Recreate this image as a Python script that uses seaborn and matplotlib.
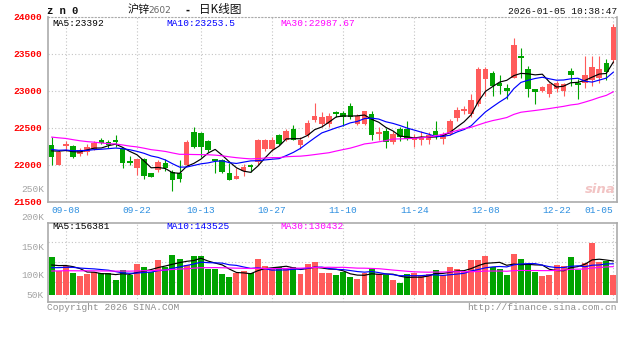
import numpy as np
import pandas as pd
import matplotlib
matplotlib.use("Agg")
import matplotlib.pyplot as plt
import seaborn as sns

# ---- data -------------------------------------------------------------
dates = [
    "09-04", "09-05", "09-08", "09-09", "09-10", "09-11", "09-12", "09-15", "09-16", "09-17",
    "09-18", "09-19", "09-22", "09-23", "09-24", "09-25", "09-26", "09-29", "09-30", "10-09",
    "10-10", "10-13", "10-14", "10-15", "10-16", "10-17", "10-20", "10-21", "10-22", "10-23",
    "10-24", "10-27", "10-28", "10-29", "10-30", "10-31", "11-03", "11-04", "11-05", "11-06",
    "11-07", "11-10", "11-11", "11-12", "11-13", "11-14", "11-17", "11-18", "11-19", "11-20",
    "11-21", "11-24", "11-25", "11-26", "11-27", "11-28", "12-01", "12-02", "12-03", "12-04",
    "12-05", "12-08", "12-09", "12-10", "12-11", "12-12", "12-15", "12-16", "12-17", "12-18",
    "12-19", "12-22", "12-23", "12-24", "12-25", "12-26", "12-29", "12-30", "12-31", "01-05",
]
tick_dates = ["09-08", "09-22", "10-13", "10-27", "11-10", "11-24", "12-08", "12-22", "01-05"]

open_price = [
    22270, 22000, 22250, 22250, 22145, 22172, 22218, 22338, 22300, 22340,
    22220, 22050, 21950, 22075, 21880, 21930, 22025, 21905, 21880, 21995,
    22440, 22425, 22320, 22075, 22060, 21880, 21805, 21920, 22000, 22040,
    22205, 22210, 22395, 22330, 22480, 22260, 22395, 22600, 22555, 22550,
    22710, 22695, 22790, 22550, 22550, 22690, 22420, 22460, 22305, 22485,
    22485, 22340, 22330, 22330, 22460, 22350, 22420, 22635, 22720, 22685,
    22820, 23155, 23240, 23110, 23040, 23175, 23465, 23290, 23020, 23000,
    22960, 23020, 23000, 23275, 23100, 23100, 23140, 23170, 23370, 23420,
]
high_price = [
    22370, 22200, 22320, 22265, 22220, 22280, 22320, 22360, 22340, 22400,
    22230, 22115, 22080, 22090, 21890, 22060, 22070, 21925, 22060, 22330,
    22510, 22440, 22330, 22080, 22080, 22015, 21950, 22010, 22010, 22350,
    22350, 22380, 22420, 22480, 22530, 22380, 22610, 22840, 22710, 22700,
    22730, 22720, 22830, 22690, 22730, 22720, 22510, 22490, 22460, 22510,
    22590, 22420, 22450, 22440, 22595, 22440, 22620, 22775, 22790, 22950,
    23320, 23320, 23265, 23220, 23090, 23720, 23580, 23330, 23030, 23070,
    23110, 23130, 23100, 23310, 23155, 23470, 23470, 23470, 23430, 23900,
]
low_price = [
    21995, 21990, 22180, 22090, 22110, 22130, 22200, 22280, 22230, 22240,
    21955, 21995, 21860, 21800, 21830, 21900, 21920, 21640, 21770, 21975,
    22220, 22105, 22170, 21880, 21880, 21785, 21800, 21850, 21905, 21990,
    22185, 22180, 22260, 22320, 22330, 22205, 22370, 22575, 22510, 22510,
    22640, 22520, 22620, 22530, 22530, 22340, 22330, 22230, 22280, 22320,
    22330, 22240, 22260, 22285, 22350, 22285, 22395, 22595, 22690, 22640,
    22795, 22930, 22930, 22950, 22885, 23175, 23175, 22910, 22820, 22980,
    22910, 22990, 22930, 23065, 22885, 23040, 23070, 23100, 23140, 23380,
]
close_price = [
    22100, 22170, 22285, 22105, 22195, 22240, 22293, 22293, 22260, 22300,
    22020, 22020, 22070, 21840, 21835, 22040, 21950, 21785, 21800, 22305,
    22240, 22240, 22195, 22050, 21905, 21795, 21840, 21965, 21970, 22330,
    22340, 22340, 22275, 22460, 22340, 22340, 22565, 22665, 22640, 22665,
    22690, 22640, 22650, 22660, 22720, 22400, 22440, 22300, 22420, 22370,
    22350, 22365, 22370, 22395, 22395, 22420, 22595, 22740, 22750, 22880,
    23300, 23290, 23060, 23060, 23000, 23620, 23440, 23030, 22990, 23045,
    23090, 23100, 23090, 23220, 23075, 23220, 23320, 23300, 23260, 23860,
]
volume = [
    173400, 110400, 133400, 102600, 87400, 95200, 105800, 99800, 99300, 69000,
    115000, 92000, 142600, 128800, 107200, 161000, 127400, 182600, 165600, 138000,
    179400, 178600, 119600, 119100, 95200, 84200, 99800, 110400, 99800, 164200,
    133400, 118200, 127400, 118200, 127400, 95200, 142600, 153200, 102600, 103100,
    90600, 107200, 84200, 72200, 99800, 124200, 95200, 90600, 69000, 53800,
    94800, 102500, 89000, 98000, 113000, 93500, 127800, 120500, 105200, 161200,
    161200, 180700, 131000, 117400, 93500, 188300, 167100, 138600, 105300, 89110,
    91000, 138500, 134000, 174245, 115600, 146000, 237500, 150200, 154800, 93405,
]
# sessions before 09-04, needed to start the moving averages
close_before = [
    22480, 22530, 22600, 22650, 22580, 22540, 22600, 22520,
    22450, 22420, 22480, 22400, 22360, 22430, 22380, 22340, 22390, 22360, 22320, 22310,
    22280, 22250, 22200, 22180, 22210,
    22190, 22240, 22180, 22220,
]
volume_before = [
    98000, 105000, 112000, 96000, 88000, 110000, 120000, 101000, 94000, 99000,
    107000, 115000, 92000, 103000, 109000, 97000, 100000, 106000, 95000, 109000,
    108000, 118000, 104000, 121000, 115000,
    124000, 131000, 128600, 133000,
]
price_ticks = [21500, 22000, 22500, 23000, 23500, 24000]
volume_labels = ["200K", "150K", "100K", "50K"]
ma_windows = [5, 10, 30]

# ---- style ------------------------------------------------------------
RED = "#ff5b5b"
GREEN = "#00a300"
MA_COLORS = ["#000000", "#0000ff", "#ff00ff"]
FRAME = "#ababab"
GRID = "#c4c4c4"
DATE_BLUE = "#2d8fe0"
MONO = ["Liberation Mono", "DejaVu Sans Mono"]
CJK = ["Noto Sans CJK SC", "DejaVu Sans"]

sns.set_theme(style="white")
plt.rcParams["font.family"] = MONO
plt.rcParams["axes.unicode_minus"] = False

W, H = 627, 342
fig = plt.figure(figsize=(W / 100, H / 100), dpi=100)
fig.patch.set_facecolor("white")


def box(left, top, right, bottom):
    return [left / W, 1 - bottom / H, (right - left) / W, (bottom - top) / H]


def ftext(px, py, s, **kw):
    kw.setdefault("va", "center")
    return fig.text(px / W, 1 - py / H, s, **kw)


def fmt(v):
    return f"{v:.2f}".rstrip("0").rstrip(".")


ax = fig.add_axes(box(48, 17, 617, 201.5))
axv = fig.add_axes(box(48, 222.7, 617, 301.7), sharex=ax)

n = len(close_price)
x = np.arange(n)
o = np.array(open_price, float)
c = np.array(close_price, float)
hi = np.array(high_price, float)
lo = np.array(low_price, float)
colors = np.where(c >= o, RED, GREEN)

k = len(close_before)
all_close = pd.Series(close_before + close_price, dtype=float)
all_vol = pd.Series(volume_before + volume, dtype=float)
price_ma = {w: all_close.rolling(w).mean().to_numpy()[k:] for w in ma_windows}
vol_ma = {w: all_vol.rolling(w).mean().to_numpy()[k:] for w in ma_windows}

# ---- candlesticks -----------------------------------------------------
ax.vlines(x, lo, hi, colors=colors, linewidth=0.8, zorder=3)
ax.bar(x, np.maximum(np.abs(c - o), 8), bottom=np.minimum(o, c), width=0.78,
       color=colors, linewidth=0, zorder=3)
for w, col in zip(ma_windows, MA_COLORS):
    sns.lineplot(x=x, y=price_ma[w], ax=ax, color=col, linewidth=0.85,
                 legend=False, zorder=4)

ax.set_xlim(-0.5, n - 0.5)
ax.set_ylim(price_ticks[0], price_ticks[-1])
ax.set_yticks(price_ticks)
ax.set_yticklabels([str(t) for t in price_ticks], color="#ff0000", fontsize=6.8,
                   fontweight="bold")
tick_pos = [dates.index(d) for d in tick_dates]
ax.set_xticks(tick_pos)
ax.set_xticklabels(tick_dates, color=DATE_BLUE, fontsize=6.8)
ax.get_xticklabels()[-1].set_horizontalalignment("right")
ax.get_xticklabels()[-1].set_x(tick_pos[-1] + 0.5)
ax.tick_params(axis="both", length=0)
ax.tick_params(axis="y", pad=4)
ax.tick_params(axis="x", pad=3)
ax.grid(True, linestyle=(0, (1, 2)), color=GRID, linewidth=0.8)
ax.set_axisbelow(True)
ax.set_xlabel("")
ax.set_ylabel("")
for side, sp in ax.spines.items():
    sp.set_color(FRAME)
    sp.set_linewidth(1.2)
ax.spines["top"].set_linestyle((0, (1, 2)))
ax.spines["top"].set_linewidth(0.8)

# ---- volume -----------------------------------------------------------
axv.bar(x, volume, width=0.84, color=colors, linewidth=0, zorder=3)
for w, col in zip(ma_windows, MA_COLORS):
    sns.lineplot(x=x, y=vol_ma[w], ax=axv, color=col, linewidth=0.85,
                 legend=False, zorder=4)
axv.set_ylim(-30820, 332580)
axv.set_yticks([])
axv.tick_params(axis="both", length=0, labelbottom=False, labelleft=False)
axv.grid(True, axis="x", linestyle=(0, (1, 2)), color=GRID, linewidth=0.8)
for f in (0.25, 0.5, 0.75):
    axv.plot([0, 1], [f, f], transform=axv.transAxes, linestyle=(0, (1, 2)),
             color=GRID, linewidth=0.8, zorder=1)
axv.set_axisbelow(True)
axv.set_xlabel("")
axv.set_ylabel("")
for sp in axv.spines.values():
    sp.set_color(FRAME)
    sp.set_linewidth(1.2)

# ---- header -----------------------------------------------------------
ftext(47, 11.5, "z n 0", fontsize=7.6, fontweight="bold", color="#111111")
ftext(128, 10, "沪锌", family=CJK, fontsize=8, color="#111111")
ftext(148, 10.5, "2602", family=["DejaVu Sans"], fontsize=6.5, color="#666666")
ftext(186, 10, "-", family=CJK, fontsize=8, fontweight="bold", color="#111111")
ftext(199, 10, "日K线图", family=CJK, fontsize=8.4, color="#111111")
ftext(617, 11.5, "2026-01-05 10:38:47", fontsize=6.8, color="#111111", ha="right")

# moving-average legends
labels_px = [52, 166, 280]
for w, col, px in zip(ma_windows, MA_COLORS, labels_px):
    ftext(px, 23, f"MA{w}:{fmt(price_ma[w][-1])}", fontsize=6.8, color=col)
    ftext(px, 226.5, f"MA{w}:{fmt(vol_ma[w][-1])}", fontsize=6.8, color=col)

# volume scale labels
for s, py in zip(["250K"] + volume_labels, [190, 218, 247.5, 276, 295]):
    ftext(44, py, s, fontsize=6.8, color="#a3a3a3", ha="right")

# footer and watermark
ftext(47, 308, "Copyright 2026 SINA.COM", fontsize=6.8, color="#8c8c8c")
ftext(617, 308, "http://finance.sina.com.cn", fontsize=6.8, color="#8c8c8c", ha="right")
ftext(600, 189, "sina", family=["DejaVu Sans"], fontsize=9.5, fontstyle="italic",
      fontweight="bold", color="#f2c4c4", ha="center")

fig.savefig("out.png", dpi=100, facecolor="white")
